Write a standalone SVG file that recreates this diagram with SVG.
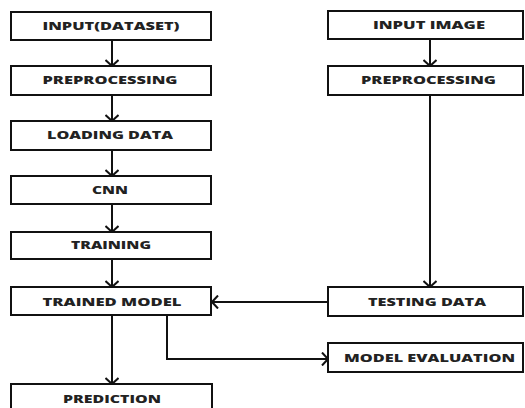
<svg xmlns="http://www.w3.org/2000/svg" width="525" height="408" viewBox="0 0 525 408">
<defs>
<style>
.box{fill:#fff;stroke:#111;stroke-width:2}
.lbl{font-family:"Open Sans","DejaVu Sans",sans-serif;font-weight:800;font-size:10.5px;fill:#222;text-anchor:middle}
.con{fill:none;stroke:#111;stroke-width:2}
</style>
<marker id="ah" markerUnits="userSpaceOnUse" markerWidth="14" markerHeight="14" viewBox="0 0 14 14" refX="13" refY="7" orient="auto">
<path d="M7,0.5 L13,7 L7,13.5" fill="none" stroke="#111" stroke-width="2"/>
</marker>
</defs>
<rect width="525" height="408" fill="#fff"/>
<g id="connectors">
<line class="con" x1="112" y1="40" x2="112" y2="66" marker-end="url(#ah)"/>
<line class="con" x1="112" y1="95" x2="112" y2="121" marker-end="url(#ah)"/>
<line class="con" x1="112" y1="150" x2="112" y2="176" marker-end="url(#ah)"/>
<line class="con" x1="112" y1="204" x2="112" y2="232" marker-end="url(#ah)"/>
<line class="con" x1="112" y1="259" x2="112" y2="287" marker-end="url(#ah)"/>
<line class="con" x1="112" y1="315" x2="112" y2="384" marker-end="url(#ah)"/>
<line class="con" x1="430" y1="39" x2="430" y2="66" marker-end="url(#ah)"/>
<line class="con" x1="430" y1="95" x2="430" y2="287" marker-end="url(#ah)"/>
<line class="con" x1="328" y1="302" x2="212" y2="302" marker-end="url(#ah)"/>
<polyline class="con" points="167,315 167,359 328,359" marker-end="url(#ah)"/>
</g>
<g id="input-dataset"><rect class="box" x="11" y="12" width="200" height="28"/><text class="lbl" x="111" y="30" textLength="137" lengthAdjust="spacingAndGlyphs">INPUT(DATASET)</text></g>
<g id="preprocessing-1"><rect class="box" x="11" y="66" width="200" height="29"/><text class="lbl" x="110" y="84" textLength="135" lengthAdjust="spacingAndGlyphs">PREPROCESSING</text></g>
<g id="loading-data"><rect class="box" x="11" y="121" width="200" height="29"/><text class="lbl" x="110" y="139" textLength="126" lengthAdjust="spacingAndGlyphs">LOADING DATA</text></g>
<g id="cnn"><rect class="box" x="11" y="176" width="200" height="28"/><text class="lbl" x="110" y="194" textLength="36" lengthAdjust="spacingAndGlyphs">CNN</text></g>
<g id="training"><rect class="box" x="11" y="232" width="200" height="27"/><text class="lbl" x="111" y="249" textLength="80" lengthAdjust="spacingAndGlyphs">TRAINING</text></g>
<g id="trained-model"><rect class="box" x="11" y="287" width="200" height="28"/><text class="lbl" x="112" y="306" textLength="139" lengthAdjust="spacingAndGlyphs">TRAINED MODEL</text></g>
<g id="prediction"><rect class="box" x="11" y="384" width="201" height="30"/><text class="lbl" x="112" y="403" textLength="98" lengthAdjust="spacingAndGlyphs">PREDICTION</text></g>
<g id="input-image"><rect class="box" x="328" y="11" width="195" height="28"/><text class="lbl" x="429" y="29" textLength="112" lengthAdjust="spacingAndGlyphs">INPUT IMAGE</text></g>
<g id="preprocessing-2"><rect class="box" x="328" y="66" width="195" height="29"/><text class="lbl" x="428.5" y="84" textLength="135" lengthAdjust="spacingAndGlyphs">PREPROCESSING</text></g>
<g id="testing-data"><rect class="box" x="328" y="287" width="195" height="29"/><text class="lbl" x="427" y="306" textLength="118" lengthAdjust="spacingAndGlyphs">TESTING DATA</text></g>
<g id="model-evaluation"><rect class="box" x="328" y="343" width="195" height="29"/><text class="lbl" x="429.5" y="362" textLength="171" lengthAdjust="spacingAndGlyphs">MODEL EVALUATION</text></g>
</svg>
